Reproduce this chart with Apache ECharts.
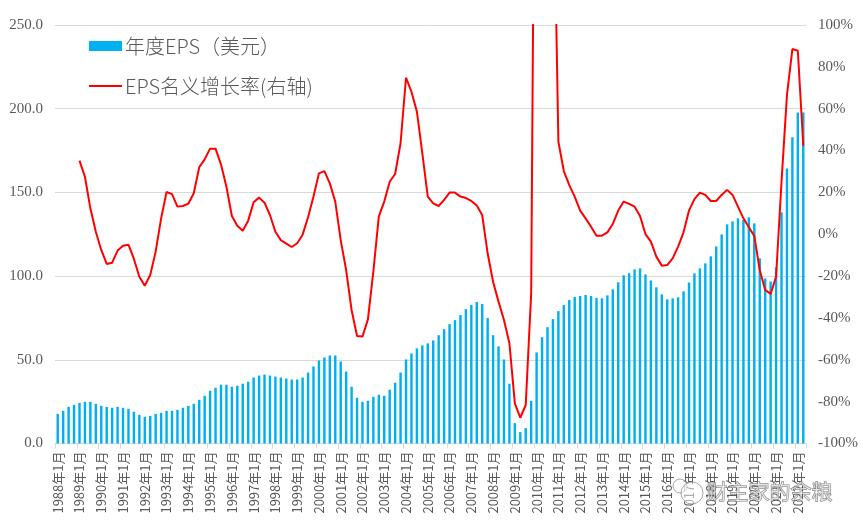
<!DOCTYPE html>
<html><head><meta charset="utf-8">
<style>html,body{margin:0;padding:0;background:#fff}#c{width:863px;height:528px}</style>
<script src="https://cdn.jsdelivr.net/npm/echarts@6/dist/echarts.min.js"></script>
</head><body><div id="c"></div>
<script>
const startYear = 1988;
const quarterMonths = [1, 4, 7, 10];
const barName = '年度EPS（美元）';
const lineName = 'EPS名义增长率(右轴)';
const watermark = '财主家的余粮';

const epsValues = [
 17.7,19.5,21.9,23.1, 24.3,24.9,24.9,23.7, 22.5,21.9,21.3,21.9, 21.3,20.7,18.9,17.1,
 15.9,16.5,17.7,18.3, 19.5,19.5,20.1,21.3, 22.5,23.7,26.1,28.5, 31.5,33.3,35.1,35.1,
 33.9,34.5,35.7,36.9, 39.4,40.6,41.2,40.6, 40.0,39.4,38.8,38.2, 38.2,39.4,42.4,46.0,
 49.6,51.4,52.6,52.6, 49.0,43.0,33.9,27.3, 24.9,25.5,27.9,29.1, 28.5,32.1,36.3,42.4,
 50.2,53.8,56.8,58.6, 59.8,61.6,64.7,68.3, 71.3,73.7,76.7,80.3, 82.7,84.5,83.3,74.9,
 64.7,58.0,50.2,35.7, 12.2,6.8,9.2,25.5, 54.4,63.5,69.5,74.3, 79.1,82.7,85.7,87.5,
 88.1,88.7,88.1,87.0, 86.7,88.5,92.1,96.3, 100.5,101.7,104.0,104.6, 101.0,97.4,93.3,89.1,
 86.1,86.7,87.3,90.9, 96.2,101.6,104.6,107.6, 111.8,117.7,124.9,130.9, 132.7,134.5,133.5,135.1,
 131.5,110.6,98.6,96.8, 105.2,138.1,164.3,182.9, 197.8,197.8
];
const growthValues = [
 null,null,null,null,
 35.2,27.5,12.4,1.2, -7.5,-14.2,-13.6,-7.8, -5.5,-5.0,-11.8,-20.3, -24.6,-19.5,-8.3,7.6,
 20.2,19.2,13.2,13.5, 14.6,19.6,32.0,35.8, 40.9,40.9,33.4,22.7, 8.7,4.1,1.7,6.5,
 15.3,17.5,15.1,9.2, 1.2,-2.8,-4.5,-6.1, -4.3,-0.2,8.1,18.0, 29.1,30.2,24.3,15.6,
 -2.8,-17.1,-36.2,-48.6, -48.9,-40.7,-17.9,8.4, 15.6,25.1,28.8,43.5, 74.8,68.1,58.6,38.7,
 18.0,14.8,13.5,16.4, 19.9,19.9,18.0,17.3, 15.9,13.7,9.2,-9.1, -22.7,-32.2,-41.0,-52.1,
 -80.8,-87.7,-81.6,-28.2, 346,834,655,191, 44.2,30.2,23.5,18.0, 11.3,7.6,3.6,-0.7,
 -0.7,0.9,4.9,11.3, 15.6,14.5,13.2,8.7, 0.1,-3.5,-10.7,-15.0, -14.7,-11.5,-5.9,0.9,
 11.3,16.8,19.9,18.8, 15.9,15.9,18.8,21.2, 18.8,13.2,7.6,3.3, -0.8,-17.1,-26.6,-28.5,
 -20.3,25.0,66.5,88.5, 87.7,42.3
];
const categories = epsValues.map((_, i) =>
  (startYear + Math.floor(i / 4)) + '年' + quarterMonths[i % 4] + '月');

const chart = echarts.init(document.getElementById('c'), null, {renderer:'canvas'});
const tickColor = '#595959', gridColor = '#d9d9d9';
const latin = '"Liberation Serif","Noto Sans CJK SC",serif';
const cjk = '"Noto Sans CJK SC","Liberation Sans",sans-serif';
chart.setOption({
  animation:false,
  backgroundColor:'#fff',
  grid:{left:55,right:57,top:25,bottom:84.5,containLabel:false},
  legend:{
    orient:'vertical',left:83,top:31,itemWidth:33,itemHeight:10,itemGap:20,
    textStyle:{fontFamily:cjk,fontSize:20,fontWeight:300,color:'#595959',padding:[0,0,0,-2]},
    data:[{name:barName,icon:'rect'},{name:lineName,itemStyle:{opacity:0}}]
  },
  xAxis:{
    type:'category',data:categories,
    axisLine:{lineStyle:{color:gridColor,width:1}},
    axisTick:{show:true,alignWithLabel:false,interval:3,length:5,lineStyle:{color:gridColor}},
    axisLabel:{interval:3,rotate:90,fontFamily:cjk,fontSize:13,color:tickColor,margin:8,hideOverlap:false},
    splitLine:{show:false}
  },
  yAxis:[
    {type:'value',min:0,max:250,interval:50,
     axisLine:{show:false},axisTick:{show:false},
     axisLabel:{fontFamily:latin,fontSize:15,color:tickColor,margin:12,formatter:v=>v.toFixed(1)},
     splitLine:{show:true,lineStyle:{color:gridColor,width:1}}},
    {type:'value',min:-100,max:100,interval:20,
     axisLine:{show:false},axisTick:{show:false},
     axisLabel:{fontFamily:latin,fontSize:15,color:tickColor,margin:12,formatter:v=>v+'%'},
     splitLine:{show:false}}
  ],
  series:[
    {name:barName,type:'bar',yAxisIndex:0,data:epsValues,barWidth:'45%',
     itemStyle:{color:'#00b0f0'}},
    {name:lineName,type:'line',yAxisIndex:1,data:growthValues,symbol:'none',clip:true,
     lineStyle:{color:'#ff0000',width:2},itemStyle:{color:'#ff0000'},
     connectNulls:false}
  ],
  graphic:[
    {type:'circle',shape:{cx:680,cy:486,r:7},z:100,silent:true,
     style:{fill:'rgba(255,255,255,0.5)',stroke:'rgba(130,130,130,0.7)',lineWidth:1}},
    {type:'circle',shape:{cx:692,cy:493,r:11},z:100,silent:true,
     style:{fill:'rgba(255,255,255,0.5)',stroke:'rgba(130,130,130,0.7)',lineWidth:1}},
    {type:'text',left:706,top:480,z:100,silent:true,
     style:{text:watermark,fontFamily:cjk,fontSize:21,fill:'rgba(255,255,255,0.55)',
            stroke:'rgba(90,90,90,0.75)',lineWidth:1}}
  ]
});
</script></body></html>
